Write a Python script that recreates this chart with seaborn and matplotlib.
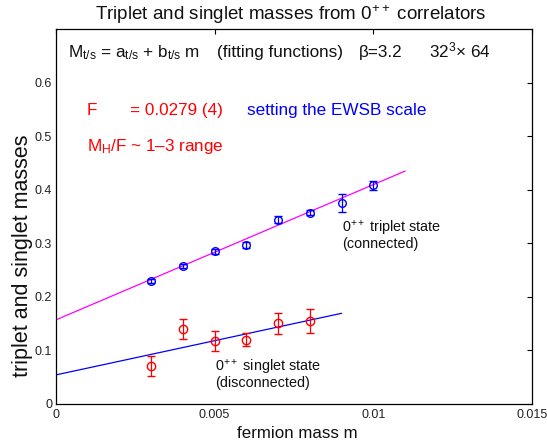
import matplotlib
matplotlib.use("Agg")
import matplotlib.pyplot as plt
import seaborn as sns
import pandas as pd

# fermion masses of the simulated ensembles
m_triplet = [0.003, 0.004, 0.005, 0.006, 0.007, 0.008, 0.009, 0.010]
M_triplet = [0.229, 0.257, 0.285, 0.297, 0.344, 0.357, 0.375, 0.408]
err_triplet = [0.004, 0.004, 0.005, 0.005, 0.006, 0.005, 0.017, 0.009]

m_singlet = [0.003, 0.004, 0.005, 0.006, 0.007, 0.008]
M_singlet = [0.071, 0.140, 0.117, 0.120, 0.150, 0.155]
err_singlet = [0.019, 0.019, 0.018, 0.013, 0.020, 0.022]

# linear fits M = a + b m, drawn between their end points
fit_triplet_m = [0.0, 0.011]
fit_triplet_M = [0.1565, 0.435]
fit_singlet_m = [0.0, 0.009]
fit_singlet_M = [0.0537, 0.169]

x_ticks = [0, 0.005, 0.01, 0.015]
x_ticklabels = ["0", "0.005", "0.01", "0.015"]
y_ticks = [0, 0.1, 0.2, 0.3, 0.4, 0.5, 0.6]
y_ticklabels = ["0", "0.1", "0.2", "0.3", "0.4", "0.5", "0.6"]

sns.set_theme(style="white")
plt.rcParams["font.family"] = ["Liberation Sans", "DejaVu Sans"]
plt.rcParams["mathtext.fontset"] = "custom"
plt.rcParams["mathtext.rm"] = "Liberation Sans"
plt.rcParams["mathtext.it"] = "Liberation Sans:italic"
plt.rcParams["mathtext.sf"] = "Liberation Sans"
plt.rcParams["mathtext.bf"] = "Liberation Sans:bold"

fig = plt.figure(figsize=(5.47, 4.47), dpi=100)
ax = fig.add_axes([0.1018, 0.0969, 0.8713, 0.8376])

fits = pd.DataFrame({"m": fit_triplet_m, "M": fit_triplet_M})
fits_s = pd.DataFrame({"m": fit_singlet_m, "M": fit_singlet_M})
sns.lineplot(data=fits, x="m", y="M", color="#ff00ff", lw=0.9, ax=ax)
sns.lineplot(data=fits_s, x="m", y="M", color="#0000ff", lw=0.9, ax=ax)

ax.errorbar(m_triplet, M_triplet, yerr=err_triplet, fmt="o", ms=5.5,
            mfc="none", mec="#0000ff", mew=1.0, ecolor="#0000ff",
            elinewidth=0.9, capsize=2.8, capthick=0.9)
ax.errorbar(m_singlet, M_singlet, yerr=err_singlet, fmt="o", ms=6,
            mfc="none", mec="#ff0000", mew=1.0, ecolor="#ff0000",
            elinewidth=0.9, capsize=2.8, capthick=0.9)

ax.set_xlim(0, 0.015)
ax.set_ylim(0, 0.7)
ax.set_xticks(x_ticks)
ax.set_xticklabels(x_ticklabels)
ax.set_yticks(y_ticks)
ax.set_yticklabels(y_ticklabels)
ax.tick_params(direction="in", length=3.5, width=0.8, labelsize=9,
               top=True, right=True, color="black", labelcolor="#222222")
ax.tick_params(axis="x", pad=4)
ax.tick_params(axis="y", pad=2.5)
for sp in ax.spines.values():
    sp.set_color("black")
    sp.set_linewidth(0.9)
ax.set_xlabel("")
ax.set_ylabel("")

fig.text(297 / 547, 1 - 438 / 447, "fermion mass m", ha="center",
         va="baseline", fontsize=12.2, color="#111111")
fig.text(23 / 547, 1 - 256 / 447, "triplet and singlet masses",
         rotation=90, ha="center", va="center", fontsize=15.5, color="#111111")
fig.text(291 / 547, 1 - 19.5 / 447,
         r"Triplet and singlet masses from 0$^{++}$ correlators",
         ha="center", va="baseline", fontsize=13.5, color="#111111")

txt = dict(fontsize=12.3, va="baseline")
top_y = 0.648
ax.text(0.00039, top_y,
        r"M$_{\mathrm{t/s}}$ = a$_{\mathrm{t/s}}$ + b$_{\mathrm{t/s}}$ m",
        color="#111111", **txt)
ax.text(0.00507, top_y, "(fitting functions)", color="#111111", **txt)
ax.text(0.00955, top_y, "β=3.2", color="#111111", **txt)
ax.text(0.01174, top_y, r"32$^{3}$× 64", color="#111111", **txt)

ax.text(0.000976, 0.5392, "F", color="#ff0000", **txt)
ax.text(0.00234, 0.5392, "= 0.0279 (4)", color="#ff0000", **txt)
ax.text(0.00601, 0.5392, "setting the EWSB scale", color="#0000ff", **txt)
ax.text(0.000976, 0.4724, r"M$_{\mathrm{H}}$/F ~ 1–3 range",
        color="#ff0000", **txt)

lab = dict(fontsize=10.4, va="baseline", color="#111111", linespacing=0.95)
ax.text(0.0090, 0.2911, "0$^{++}$ triplet state\n(connected)", **lab)
ax.text(0.005014, 0.0307, "0$^{++}$ singlet state\n(disconnected)", **lab)

fig.savefig("out.png", dpi=100)
